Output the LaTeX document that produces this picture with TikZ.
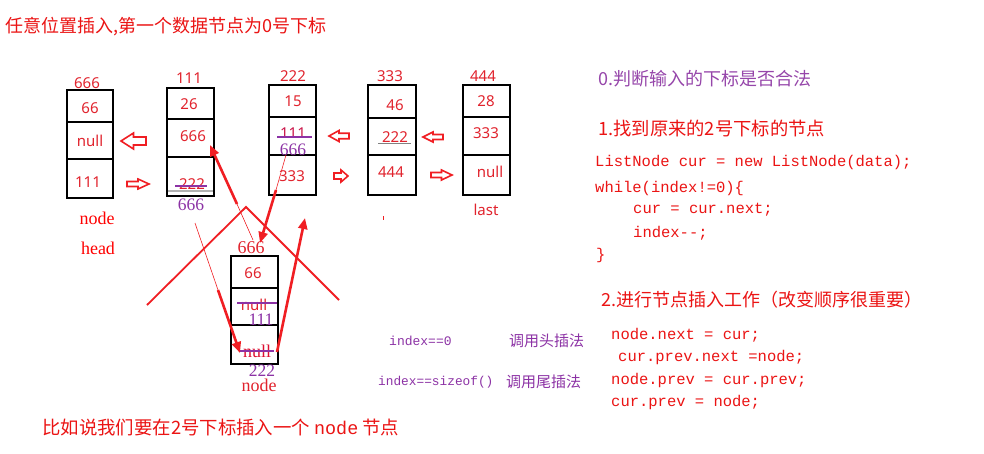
\documentclass[tikz,border=0pt]{standalone}
\usepackage{fontspec}
\usetikzlibrary{arrows.meta}
\setmainfont{Liberation Serif}
\newfontfamily\cjkf{Noto Sans CJK SC}
\newfontfamily\numf{Noto Sans}
\newfontfamily\codef{Liberation Mono}
\definecolor{boxred}{RGB}{225,35,45}
\definecolor{codered}{RGB}{235,20,20}
\definecolor{purp}{RGB}{140,50,165}
\definecolor{headpurp}{RGB}{150,70,170}
\definecolor{linered}{RGB}{240,30,35}
\newcommand{\hollowarrow}[5]{%
  \draw[hollowar] (#1,#2) -- ++({(#3)*0.5*(#4)},{-(#5)}) -- ++(0,{0.5*(#5)})
    -- ++({(#3)*0.5*(#4)},0) -- ++(0,{#5}) -- ++({(-1)*(#3)*0.5*(#4)},0)
    -- ++(0,{0.5*(#5)}) -- cycle;}
\begin{document}
\begin{tikzpicture}[x=1pt,y=-1pt,
  cell/.style={draw=black, line width=1.8pt, inner sep=0pt},
  tx/.style={inner sep=0pt},
  tl/.style={inner sep=0pt, anchor=west},
  numtxt/.style={tx, text=boxred, font=\numf\fontsize{15}{15}\selectfont},
  serifp/.style={tx, text=purp, font=\fontsize{17.5}{17.5}\selectfont},
  serifr/.style={tx, text=boxred, font=\fontsize{18}{18}\selectfont},
  strike/.style={draw=purp, line width=1.2pt},
  hollowar/.style={draw=linered, line width=1.6pt, fill=white, line join=miter},
  roof/.style={draw=linered, line width=1.8pt},
  thinred/.style={draw=linered, line width=0.6pt},
  thickarrow/.style={draw=linered, line width=2.6pt, -{Triangle[length=11pt,width=9pt]}},
  code/.style={tl, text=codered, font=\codef\fontsize{15.5}{15.5}\selectfont},
  cjkred/.style={tl, text=codered, font=\cjkf\fontsize{17}{17}\selectfont}
]
\fill[white] (0,0) rectangle (984,453);
\useasboundingbox (0,0) rectangle (984,453);

% title
\node[cjkred, font=\cjkf\fontsize{18}{18}\selectfont] (title) at (5,27) {任意位置插入,第一个数据节点为0号下标};

% ---- box A (666)
\node[cell, minimum width=46pt, minimum height=32pt] (a1) at (90,106) {};
\node[cell, minimum width=46pt, minimum height=37pt] (a2) at (90,140.5) {};
\node[cell, minimum width=46pt, minimum height=39pt] (a3) at (90,178.5) {};
\node[numtxt] (al) at (87,83) {666};
\node[numtxt] (at1) at (90,108) {66};
\node[numtxt] (at2) at (90,141) {null};
\node[numtxt] (at3) at (88,182) {111};
\node[serifr, text=red] (anode) at (97,218) {node};
\node[serifr, text=red] (ahead) at (98,248) {head};

% ---- box B (111)
\node[cell, minimum width=47pt, minimum height=31pt] (b1) at (190.5,103.5) {};
\node[cell, minimum width=47pt, minimum height=38pt] (b2) at (190.5,138) {};
\node[cell, minimum width=47pt, minimum height=39pt] (b3) at (190.5,176.5) {};
\draw[gray!60, line width=1.5pt] (168,191) -- (213,191);
\node[numtxt] (bl) at (189,78) {111};
\node[numtxt] (bt1) at (189,104) {26};
\node[numtxt] (bt2) at (193,136) {666};
\node[numtxt] (bt3) at (192,184) {222};
\draw[strike] (175,186) -- (207,186);
\node[serifp] (bp) at (191,205) {666};

% ---- box C (222)
\node[cell, minimum width=47pt, minimum height=32pt] (c1) at (292.5,101) {};
\node[cell, minimum width=47pt, minimum height=38pt] (c2) at (292.5,136) {};
\node[cell, minimum width=47pt, minimum height=40pt] (c3) at (292.5,175) {};
\node[numtxt] (cl) at (293,76) {222};
\node[numtxt] (ct1) at (293,101) {15};
\node[numtxt, text=red!55!purp] (ct2) at (293,133) {111};
\draw[strike] (277,137) -- (312,137);
\node[serifp] (cp) at (293,150) {666};
\node[numtxt] (ct3) at (292,176) {333};

% ---- box D (333)
\node[cell, minimum width=48pt, minimum height=33pt] (d1) at (392,101.5) {};
\node[cell, minimum width=48pt, minimum height=37pt] (d2) at (392,136.5) {};
\node[cell, minimum width=48pt, minimum height=40pt] (d3) at (392,175) {};
\node[numtxt] (dl) at (390,76) {333};
\node[numtxt] (dt1) at (395,105) {46};
\node[numtxt] (dt2) at (395,137) {222};
\draw[gray, line width=1pt] (378,143) -- (411,143);
\node[numtxt] (dt3) at (391,172) {444};
\draw[linered, line width=1pt] (383,216) -- (383,219.5);

% ---- box E (444)
\node[cell, minimum width=47pt, minimum height=32pt] (e1) at (486.5,101) {};
\node[cell, minimum width=47pt, minimum height=38pt] (e2) at (486.5,136) {};
\node[cell, minimum width=47pt, minimum height=40pt] (e3) at (486.5,175) {};
\node[numtxt] (el) at (483,76) {444};
\node[numtxt] (et1) at (486,101) {28};
\node[numtxt] (et2) at (486,133) {333};
\node[numtxt] (et3) at (490,172) {null};
\node[numtxt] (elast) at (486,210) {last};

% ---- hollow arrows
\hollowarrow{121}{141}{1}{25}{8}
\hollowarrow{149}{184}{-1}{22}{5}
\hollowarrow{329}{136}{1}{20}{5.5}
\hollowarrow{348}{176}{-1}{14}{6}
\hollowarrow{423}{137}{1}{20}{5}
\hollowarrow{452}{175}{-1}{21}{5}

% ---- roof lines
\coordinate (rl) at (147,305);
\coordinate (rt) at (246,207);
\coordinate (rr) at (339,300);
\draw[roof] (rl) -- (rt) -- (rr);

% ---- box F (new node 666)
\node[cell, minimum width=47pt, minimum height=32pt] (f1) at (254.5,272) {};
\node[cell, minimum width=47pt, minimum height=37pt] (f2) at (254.5,306.5) {};
\node[cell, minimum width=47pt, minimum height=39pt] (f3) at (254.5,344.5) {};
\node[serifr] (fl) at (251,248) {666};
\node[numtxt] (ft1) at (253,273) {66};
\node[numtxt] (ft2) at (254,305) {null};
\draw[strike] (237,303) -- (277,303);
\node[serifp] (fp2) at (261,320) {111};
\node[serifr, text=red!70!purp] (ft3) at (257,351) {null};
\draw[strike] (239,351) -- (274,351);
\node[serifp] (fp3) at (262,371) {222};
\node[serifr] (fnode) at (259,385) {node};

% ---- red pointer arrows
\coordinate (u1) at (277,352);
\coordinate (u2) at (305,218);
\draw[thickarrow] (u1) -- (u2);

\coordinate (v1) at (286,155);
\coordinate (v2) at (276,190);
\coordinate (v3) at (260,243);
\draw[thinred] (v1) -- (v2);
\draw[thickarrow] (v2) -- (v3);

\coordinate (w1) at (253,240);
\coordinate (w2) at (237,204);
\coordinate (w3) at (210,145);
\draw[thinred] (w1) -- (w2);
\draw[thickarrow] (w2) -- (w3);

\coordinate (z1) at (195,223);
\coordinate (z2) at (218,290);
\coordinate (z3) at (240,353);
\draw[thinred] (z1) -- (z2);
\draw[thickarrow] (z2) -- (z3);

% ---- index notes
\node[tl, text=purp, font=\codef\fontsize{13}{13}\selectfont] (i1) at (389,341) {index==0};
\node[tl, text=purp, font=\cjkf\fontsize{15}{15}\selectfont] (i1b) at (509,341) {调用头插法};
\node[tl, text=purp, font=\codef\fontsize{12.8}{12.8}\selectfont] (i2) at (378,382) {index==sizeof()};
\node[tl, text=purp, font=\cjkf\fontsize{15}{15}\selectfont] (i2b) at (506,382) {调用尾插法};

% ---- right side
\node[tl, text=headpurp, font=\cjkf\fontsize{18}{18}\selectfont] (h0) at (598,79) {0.判断输入的下标是否合法};
\node[tl, text=codered, font=\cjkf\fontsize{18.3}{18.3}\selectfont] (h1) at (598,128) {1.找到原来的2号下标的节点};
\node[code] (k1) at (595,162) {ListNode cur = new ListNode(data);};
\node[code] (k2) at (595,188) {while(index!=0)\{};
\node[code] (k3) at (633,210) {cur = cur.next;};
\node[code] (k4) at (633,233) {index-{}-;};
\node[code] (k5) at (596,255) {\}};
\node[tl, text=codered, font=\cjkf\fontsize{18}{18}\selectfont] (h2) at (601,300) {2.进行节点插入工作（改变顺序很重要）};
\node[code] (m1) at (611,335) {node.next = cur;};
\node[code] (m2) at (618,357) {cur.prev.next =node;};
\node[code] (m3) at (611,380) {node.prev = cur.prev;};
\node[code] (m4) at (611,402) {cur.prev = node;};

% ---- bottom
\node[cjkred, font=\cjkf\fontsize{18.4}{18.4}\selectfont] (bottom) at (42,428) {比如说我们要在2号下标插入一个 {\codef node} 节点};
\end{tikzpicture}
\end{document}
